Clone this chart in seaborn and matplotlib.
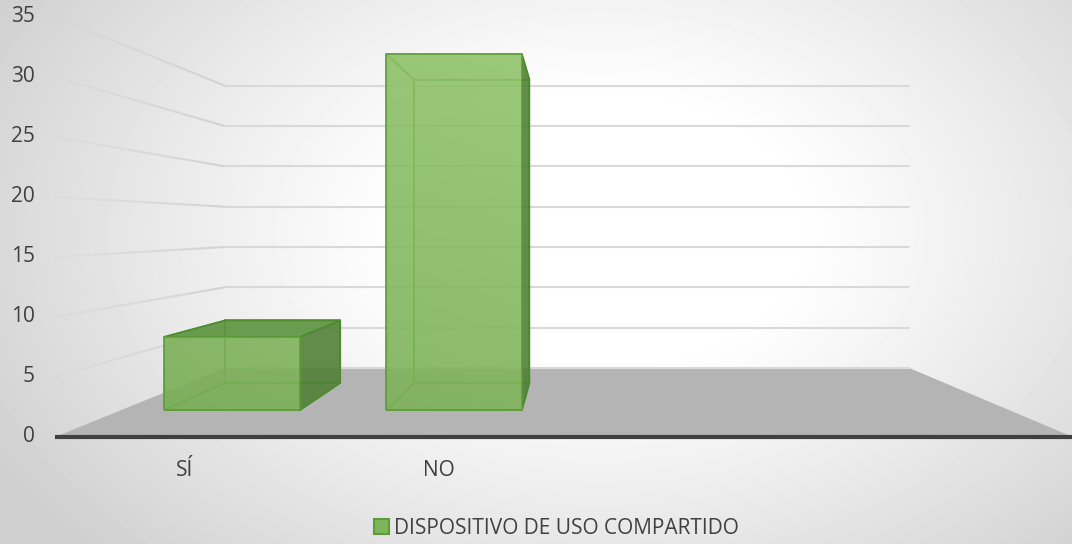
import numpy as np
import matplotlib
matplotlib.use("Agg")
import matplotlib.pyplot as plt
from matplotlib.patches import Polygon, Patch
from matplotlib.collections import LineCollection
import seaborn as sns

categories = ["SÍ", "NO"]
values = [7, 34]
series_name = "DISPOSITIVO DE USO COMPARTIDO"
y_ticks = [0, 5, 10, 15, 20, 25, 30, 35]
n_slots = 4  # the category axis has room for 4 bars

W, H = 1072, 544

# simple one-point perspective, all in pixels
VX, VY = 573, 226.5          # vanishing point
FX0, FX1, FY0 = 55, 1073, 437  # front edge of the floor
PX_UNIT = 12                 # pixels per unit on the front plane
K = 0.487                    # depth shrink factor
Z_FRONT, Z_BACK = 0.30, 0.71
BAR_W = 0.61

GREEN = "#7DB65A"
EDGE = "#5E9C3A"
TEXT = "#404040"


def proj(cx, v, z):
    X = FX0 + (cx + 0.5) * (FX1 - FX0) / n_slots
    Y = FY0 - v * PX_UNIT
    s = 1 / (1 + K * z)
    return VX + (X - VX) * s, VY + (Y - VY) * s


sns.set_theme(style="white")
plt.rcParams["font.family"] = ["Open Sans", "DejaVu Sans"]

fig = plt.figure(figsize=(W / 100, H / 100), dpi=100)
ax = fig.add_axes([0, 0, 1, 1])

# radial background
yy, xx = np.mgrid[0:H, 0:W]
r = np.sqrt(((xx - 600) / 640) ** 2 + ((yy - 230) / 430) ** 2)
t = np.clip((r - 0.3) / 0.8, 0, 1)
g = 1 - 0.19 * t ** 1.1
ax.imshow(g, cmap="gray", vmin=0, vmax=1, extent=(0, W, H, 0), zorder=0,
          interpolation="bilinear")

# floor
xmax = n_slots - 0.5
floor = [proj(-0.5, 0, 0), proj(-0.5, 0, 1), proj(xmax, 0, 1), proj(xmax, 0, 0)]
ax.add_patch(Polygon(floor, closed=True, facecolor="#B4B4B4", edgecolor="none", zorder=1))

# gridlines: back wall + fading side wall
for v in y_ticks:
    bl = proj(-0.5, v, 1)
    br = proj(xmax, v, 1)
    ax.plot([bl[0], br[0]], [bl[1], br[1]], color="#D9D9D9", lw=1.5, zorder=2)
    if v == 0:
        continue
    fl = proj(-0.5, v, 0)
    n = 40
    xs = np.linspace(fl[0], bl[0], n + 1)
    ys = np.linspace(fl[1], bl[1], n + 1)
    segs = [[(xs[i], ys[i]), (xs[i + 1], ys[i + 1])] for i in range(n)]
    cols = [(0.82, 0.82, 0.82, 0.15 + 0.85 * i / n) for i in range(n)]
    ax.add_collection(LineCollection(segs, colors=cols, linewidths=1.5, zorder=2))

# front edge of the floor
f0 = proj(-0.5, 0, 0)
ax.plot([f0[0], W], [f0[1], f0[1]], color="#404040", lw=3, solid_capstyle="butt", zorder=3)

# bar bodies (everything except the front face)
for i, v in enumerate(values):
    x0, x1 = i - BAR_W / 2, i + BAR_W / 2
    zf, zb = Z_FRONT, Z_BACK
    hidden = dict(facecolor=(0.49, 0.71, 0.35, 0.15), edgecolor="#5E9C3A", lw=1.2, zorder=4)
    faces_hidden = [
        [proj(x0, 0, zf), proj(x1, 0, zf), proj(x1, 0, zb), proj(x0, 0, zb)],
        [proj(x0, 0, zb), proj(x1, 0, zb), proj(x1, v, zb), proj(x0, v, zb)],
    ]
    right = [proj(x1, 0, zf), proj(x1, 0, zb), proj(x1, v, zb), proj(x1, v, zf)]
    left = [proj(x0, 0, zf), proj(x0, 0, zb), proj(x0, v, zb), proj(x0, v, zf)]
    top = [proj(x0, v, zf), proj(x1, v, zf), proj(x1, v, zb), proj(x0, v, zb)]
    side_vis = []
    if right[1][0] > right[0][0]:
        side_vis.append(right)
        faces_hidden.append(left)
    else:
        side_vis.append(left)
        faces_hidden.append(right)
    top_vis = top[2][1] < top[1][1]
    if not top_vis:
        faces_hidden.append(top)
    for f in faces_hidden:
        ax.add_patch(Polygon(f, closed=True, **hidden))
    for f in side_vis:
        ax.add_patch(Polygon(f, closed=True, facecolor="#4F7F35", alpha=0.88,
                             edgecolor="#4E8A2E", lw=1.2, zorder=5))
    if top_vis:
        ax.add_patch(Polygon(top, closed=True, facecolor="#5D9440", alpha=0.9,
                             edgecolor="#4E8A2E", lw=1.2, zorder=5))

# y tick labels on the front plane
for v in y_ticks:
    x, y = proj(-0.5, v, 0)
    ax.text(x - 20, y, str(v), ha="right", va="center", fontsize=15, color=TEXT)

# category labels
for i, c in enumerate(categories):
    x, y = proj(i, 0, 0)
    ax.text(x + 2, y + 34, c, ha="center", va="center", fontsize=15, color=TEXT)

ax.set_xlim(0, W)
ax.set_ylim(H, 0)
ax.set_aspect("auto")
ax.axis("off")

# front faces of the bars, drawn by seaborn on an axes lying in the front plane
zl, zbot = proj(-0.5, 0, Z_FRONT)
zr, _ = proj(xmax, 0, Z_FRONT)
_, ztop = proj(-0.5, y_ticks[-1], Z_FRONT)
bax = fig.add_axes([zl / W, 1 - zbot / H, (zr - zl) / W, (zbot - ztop) / H])
bax.patch.set_alpha(0)
sns.barplot(x=list(range(len(categories))), y=values, native_scale=True, width=BAR_W,
            color=GREEN, saturation=1, alpha=0.9, edgecolor=EDGE, linewidth=1.2,
            errorbar=None, ax=bax)
bax.set_xlim(-0.5, xmax)
bax.set_ylim(0, y_ticks[-1])

# soft light gradient on the front faces (lighter towards the top right)
gy, gx = np.mgrid[0:100, 0:100] / 99.0
light = np.clip(0.55 * (1 - gy) + 0.45 * gx, 0, 1)  # row 0 = top
c_lo = np.array([0.47, 0.68, 0.33])
c_hi = np.array([0.60, 0.80, 0.45])
img = c_lo + (c_hi - c_lo) * light[..., None]
for bar in bax.patches:
    im = bax.imshow(img, extent=(-0.5, xmax, 0, y_ticks[-1]), aspect="auto",
                    alpha=0.88, zorder=bar.get_zorder() + 0.1)
    im.set_clip_path(bar)
for bar in bax.patches:
    bar.set_facecolor("none")
    bar.set_zorder(3)
    bax.add_patch(Polygon(bar.get_verts(), closed=True, facecolor="none",
                          edgecolor=EDGE, lw=1.2, zorder=4))
bax.set_xlim(-0.5, xmax)
bax.set_ylim(0, y_ticks[-1])
bax.axis("off")

handle = Patch(facecolor=GREEN, edgecolor=EDGE, linewidth=1.5)
fig.legend([handle], [series_name], loc="center", bbox_to_anchor=(0.519, 0.029),
           frameon=False, fontsize=15, handlelength=0.7, handleheight=0.7,
           handletextpad=0.25, labelcolor=TEXT)

fig.savefig("out.png", dpi=100)
